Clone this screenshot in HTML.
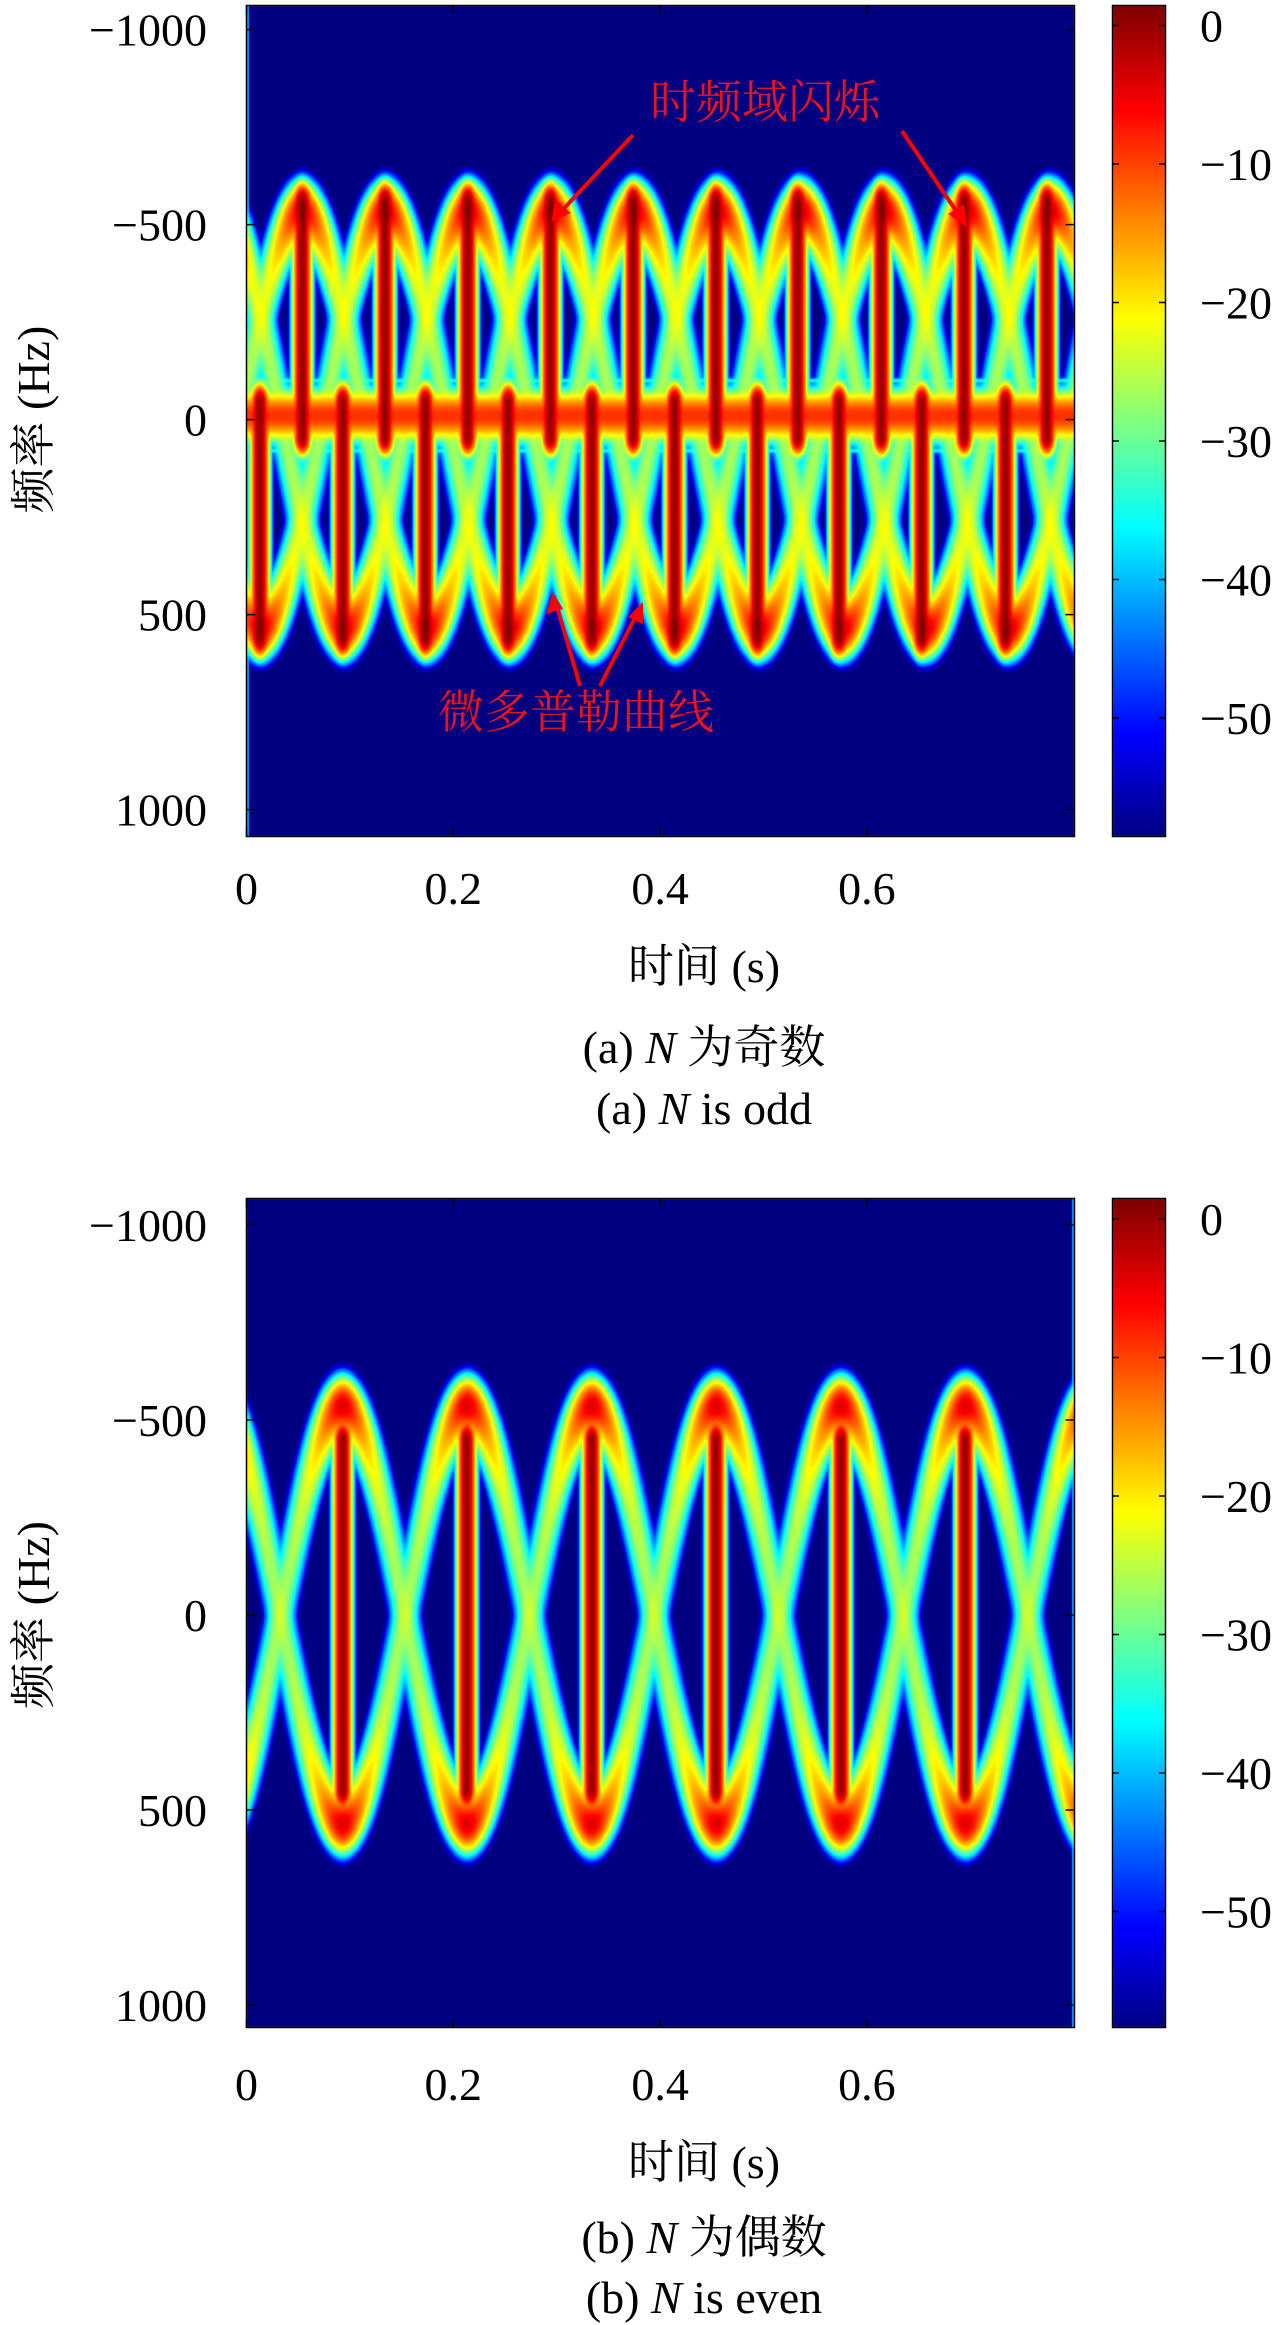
<!DOCTYPE html>
<html><head><meta charset="utf-8">
<style>
html,body{margin:0;padding:0;background:#fff;}
#wrap{position:relative;width:1280px;height:2325px;overflow:hidden;}
canvas{position:absolute;left:0;top:0;}
svg{position:absolute;left:0;top:0;}
text{font-family:"Liberation Serif","Noto Serif CJK SC","Noto Sans CJK SC",serif;fill:#000;}
</style></head>
<body>
<div id="wrap">
<canvas id="cv" width="1280" height="2325"></canvas>
<svg id="sv" width="1280" height="2325">
<g>
<text x="765" y="118" font-size="46" text-anchor="middle" style="fill:#e8141c">时频域闪烁</text>
<line x1="633" y1="135" x2="553" y2="220" stroke="#ff0000" stroke-width="4"/>
<polygon points="551,222 556,200 571,213" fill="#ff0000"/>
<line x1="902" y1="131" x2="965" y2="224" stroke="#ff0000" stroke-width="4"/>
<polygon points="967,227 948,214 964,204" fill="#ff0000"/>
</g>
<g>
<text x="576" y="728" font-size="46" text-anchor="middle" style="fill:#e8141c">微多普勒曲线</text>
<line x1="580" y1="686" x2="554" y2="596" stroke="#ff0000" stroke-width="4"/>
<polygon points="553,592 546,614 563,609" fill="#ff0000"/>
<line x1="600" y1="686" x2="641" y2="606" stroke="#ff0000" stroke-width="4"/>
<polygon points="643,602 628,617 643,624" fill="#ff0000"/>
</g>
<text x="704" y="1063" font-size="46" text-anchor="middle">(a) <tspan font-style="italic">N</tspan> 为奇数</text>
<text x="704" y="1124" font-size="46" text-anchor="middle">(a) <tspan font-style="italic">N</tspan> is odd</text>
<text x="704" y="2253" font-size="46" text-anchor="middle">(b) <tspan font-style="italic">N</tspan> 为偶数</text>
<text x="704" y="2313" font-size="46" text-anchor="middle">(b) <tspan font-style="italic">N</tspan> is even</text>
</svg>
</div>
<script>
// ---- shared axis data ----
const xTicks=[0,0.2,0.4,0.6];
const xTickLabels=["0","0.2","0.4","0.6"];
const yTicks=[-1000,-500,0,500,1000];
const yTickLabels=["\u22121000","\u2212500","0","500","1000"];
const cbTicks=[0,-10,-20,-30,-40,-50];
const cbTickLabels=["0","\u221210","\u221220","\u221230","\u221240","\u221250"];
const dbRange=[-58.7,1.4];
const timeRange=[0,0.8];
// ---- panel (a): N odd ----
const oddBlades=[3];
const oddAmplitude=[540];
const oddPeriod=[0.2412];
const oddPeakTime=[0.054];
const oddFlashUpperTimes=[0.054,0.134,0.214,0.294,0.374,0.454,0.533,0.614,0.694,0.774];
const oddFlashUpperSpan=[-560,45];
const oddFlashLowerTimes=[0.013,0.093,0.173,0.253,0.334,0.414,0.494,0.573,0.653,0.734];
const oddFlashLowerSpan=[-45,560];
const oddCenterBand=[-10,-9];
// ---- panel (b): N even ----
const evenBlades=[2];
const evenAmplitude=[540];
const evenPeriod=[0.241];
const evenPeakTime=[0.093];
const evenFlashTimes=[0.093,0.213,0.334,0.454,0.575,0.695];
const evenFlashSpan=[-450,450];

const panels=[
 {name:'a',left:246.5,top:6,height:830,zeroY:419.6,blades:oddBlades[0],A:oddAmplitude[0],P:oddPeriod[0],t0:oddPeakTime[0],
  flashes:[{times:oddFlashUpperTimes,span:oddFlashUpperSpan},{times:oddFlashLowerTimes,span:oddFlashLowerSpan}],
  band:oddCenterBand,edge:'left',cbZero:25.5,xlabY:966,xtY:904},
 {name:'b',left:246.5,top:1199,height:828,zeroY:1615,blades:evenBlades[0],A:evenAmplitude[0],P:evenPeriod[0],t0:evenPeakTime[0],
  flashes:[{times:evenFlashTimes,span:evenFlashSpan}],
  band:null,edge:'right',cbZero:1219,xlabY:2162,xtY:2100}
];
const PX_PER_S=1034, PX_PER_HZ=0.39, PX_PER_DB=13.85, PLOT_W=827;
function xScale(p,t){return p.left+(t-timeRange[0])*PX_PER_S;}
function yScale(p,f){return p.zeroY+f*PX_PER_HZ;}
function cbScale(p,db){return p.cbZero-db*PX_PER_DB;}
function jet(v){v=Math.max(0,Math.min(1,v));const c=x=>Math.max(0,Math.min(1,x));
 return [c(1.5-Math.abs(4*v-3)),c(1.5-Math.abs(4*v-2)),c(1.5-Math.abs(4*v-1))];}

const cv=document.getElementById('cv');const ctx=cv.getContext('2d');
const sigF=25,sigT=0.005,Lpeak=-4,K1=48,K2=14;
const taus=[],wts=[];let Sg=0;
for(let j=-6;j<=6;j++){const tau=j*sigT*0.5;taus.push(tau);const w=Math.exp(-tau*tau/(2*sigT*sigT));wts.push(w);Sg+=w;}

function drawPanel(p){
 const x0=Math.round(p.left),y0=Math.round(p.top),W=PLOT_W,H=p.height;
 const img=ctx.createImageData(W,H);const d=img.data;
 const floorP=Math.pow(10,dbRange[0]/10);
 for(let px=0;px<W;px++){
  const t=(x0+px+0.5-p.left)/PX_PER_S;
  const cols=[];
  for(let k=0;k<p.blades;k++){
   const ph=2*Math.PI*k/p.blades;const om=2*Math.PI/p.P;
   const fs=taus.map(tau=>-p.A*Math.cos(om*(t+tau-p.t0)+ph));
   const s=p.A*om*Math.sin(om*(t-p.t0)+ph);
   const red=sigF/Math.sqrt(sigF*sigF+(s*sigT)*(s*sigT));
   cols.push({fs,red,fc:fs[6]});
  }
  const fl=[];
  p.flashes.forEach(g=>{let best=-200;g.times.forEach(tf=>{const dt=t-tf;
    let v=-18*(dt/0.0078)*(dt/0.0078);
    const sl=-27-60*Math.pow((Math.abs(dt)-0.0098)/0.0012,2);
    v=Math.max(v,sl);if(v>best)best=v;});fl.push({db:best,span:g.span});});
  let edgeDb=-200;
  if(p.edge==='left'&&px<2)edgeDb=-42;
  if(p.edge==='right'&&px>=W-2)edgeDb=-42;
  for(let py=0;py<H;py++){
   const f=(y0+py+0.5-p.zeroY)/PX_PER_HZ;
   let P=floorP;
   for(const c of cols){
    if(Math.abs(f-c.fc)>520)continue;
    let S=0;for(let j=0;j<13;j++){const df=f-c.fs[j];S+=wts[j]*Math.exp(-df*df/(2*sigF*sigF));}
    const ratio=Math.max(S/(Sg*c.red),1e-12);
    const db=Lpeak+K1*Math.log10(c.red)+K2*Math.log10(ratio);
    P+=Math.pow(10,db/10);
   }
   for(const g of fl){if(g.db<-80)continue;let db=g.db;
    if(f<g.span[0])db-=0.35*Math.pow((g.span[0]-f)/6,2);
    else if(f>g.span[1])db-=0.35*Math.pow((f-g.span[1])/6,2);
    P+=Math.pow(10,db/10);}
   if(p.band){const df=f-p.band[0];
    P+=Math.pow(10,(p.band[1]-16*(df/55)*(df/55))/10);
    const sd=Math.abs(df)-90;P+=Math.pow(10,(-36-30*(sd/10)*(sd/10))/10);}
   if(edgeDb>-100)P+=Math.pow(10,edgeDb/10);
   let db=10*Math.log10(P);
   const col=jet((db-dbRange[0])/(dbRange[1]-dbRange[0]));
   const i=(py*W+px)*4;d[i]=col[0]*255;d[i+1]=col[1]*255;d[i+2]=col[2]*255;d[i+3]=255;
  }
 }
 ctx.putImageData(img,x0,y0);
 const cbx=1113,cbw=52;
 for(let py=0;py<H;py++){const db=(p.cbZero-(y0+py+0.5))/PX_PER_DB;const c=jet((db-dbRange[0])/(dbRange[1]-dbRange[0]));
  ctx.fillStyle='rgb('+Math.round(c[0]*255)+','+Math.round(c[1]*255)+','+Math.round(c[2]*255)+')';ctx.fillRect(cbx,y0+py,cbw,1);}
}
panels.forEach(drawPanel);

// ---- SVG axes ----
const NS='http://www.w3.org/2000/svg';const sv=document.getElementById('sv');
function mk(tag,attrs,parent){const e=document.createElementNS(NS,tag);for(const k in attrs)e.setAttribute(k,attrs[k]);(parent||sv).appendChild(e);return e;}
panels.forEach(p=>{
 const x0=Math.round(p.left)-0.5,y0=Math.round(p.top)-0.5,W=PLOT_W+1,H=p.height+1;
 const g=mk('g',{});
 
 
 const fr=mk('rect',{x:x0,y:y0,width:W,height:H,fill:'none',stroke:'#000','stroke-width':1.5},g);
 
 
 xTicks.forEach((v,i)=>{const x=xScale(p,v);
  const t1=mk('line',{x1:x,x2:x,y1:y0+H,y2:y0+H-9,stroke:'#000','stroke-width':1.5},g);
  
  
  const t2=mk('line',{x1:x,x2:x,y1:y0,y2:y0+9,stroke:'#000','stroke-width':1.5},g);
  
  
  const lb=mk('text',{x:x,y:p.xtY,'font-size':46,'text-anchor':'middle'},g);lb.textContent=xTickLabels[i];
  
  
 });
 yTicks.forEach((v,i)=>{const y=yScale(p,v);
  const t1=mk('line',{x1:x0,x2:x0+9,y1:y,y2:y,stroke:'#000','stroke-width':1.5},g);
  
  
  const t2=mk('line',{x1:x0+W,x2:x0+W-9,y1:y,y2:y,stroke:'#000','stroke-width':1.5},g);
  
  
  const lb=mk('text',{x:207,y:y+16,'font-size':46,'text-anchor':'end'},g);lb.textContent=yTickLabels[i];
  
  
 });
 const xl=mk('text',{x:704,y:p.xlabY+16,'font-size':46,'text-anchor':'middle'},g);xl.textContent='时间 (s)';
 
 
 const cy=yScale(p,0);
 const yl=mk('text',{x:0,y:0,'font-size':46,'text-anchor':'middle',transform:'translate(49,'+cy+') rotate(-90)'},g);yl.textContent='频率 (Hz)';
 
 
 const cb=mk('rect',{x:1112.5,y:y0,width:53,height:H,fill:'none',stroke:'#000','stroke-width':1.5},g);
 
 
 cbTicks.forEach((v,i)=>{const y=cbScale(p,v);
  const t1=mk('line',{x1:1112.5,x2:1119,y1:y,y2:y,stroke:'#000','stroke-width':1.5},g);
  
  
  const t2=mk('line',{x1:1165.5,x2:1159,y1:y,y2:y,stroke:'#000','stroke-width':1.5},g);
  
  
  const lb=mk('text',{x:1200,y:y+16,'font-size':46,'text-anchor':'start'},g);lb.textContent=cbTickLabels[i];
  
  
 });
});
</script>
</body></html>
